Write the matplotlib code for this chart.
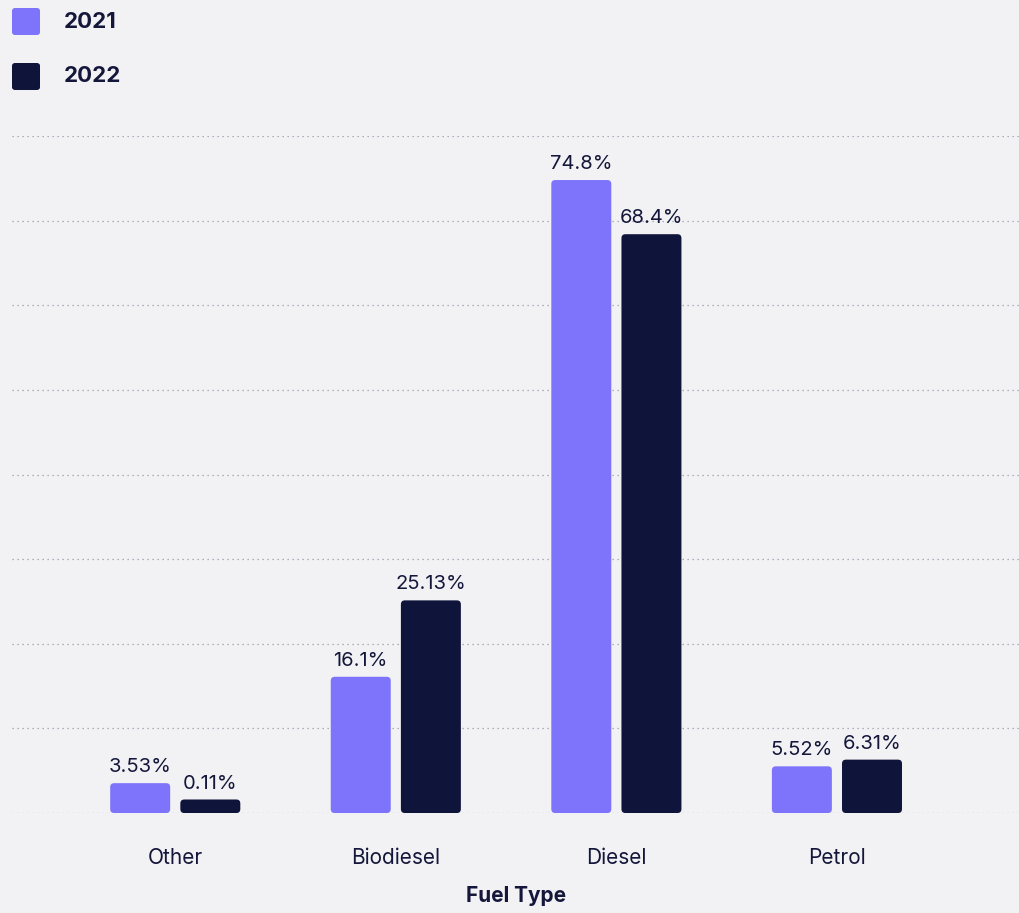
import matplotlib.pyplot as plt
from matplotlib.patches import FancyBboxPatch
import numpy as np

# data
fuel_types = ["Other", "Biodiesel", "Diesel", "Petrol"]
share_2021 = [3.53, 16.1, 74.8, 5.52]
share_2022 = [0.11, 25.13, 68.4, 6.31]
labels_2021 = ["3.53%", "16.1%", "74.8%", "5.52%"]
labels_2022 = ["0.11%", "25.13%", "68.4%", "6.31%"]
years = ["2021", "2022"]

# style
bg = "#f2f2f5"
col_2021 = "#7d74fb"
col_2022 = "#0f143a"
text_col = "#14163a"
plt.rcParams["font.family"] = ["Inter", "DejaVu Sans"]

fig = plt.figure(figsize=(10.2, 9.13), dpi=100, facecolor=bg)
ax = fig.add_axes([0.0118, 0.1095, 0.9882, 0.7415], facecolor=bg)

x = np.arange(len(fuel_types))
bar_w = 0.272
offset = 0.159
min_h = 1.6  # smallest drawn bar height, like the original renderer

ax.set_xlim(-0.74, 3.83)
ax.set_ylim(0, 80)

# px -> data scale for rounded corners
px_x = 4.57 / 1008
px_y = 80 / 677
aspect = px_y / px_x


def rounded_bars(xs, vals, labels, color):
    for xi, v, lab in zip(xs, vals, labels):
        h = max(v, min_h)
        r = 4 * px_x
        patch = FancyBboxPatch(
            (xi - bar_w / 2, 0), bar_w, h,
            boxstyle=f"round,pad=0,rounding_size={r}",
            mutation_aspect=aspect,
            facecolor=color, edgecolor="none", zorder=3,
        )
        ax.add_patch(patch)
        ax.annotate(lab, (xi, h), xytext=(0, 5), textcoords="offset points",
                    ha="center", va="bottom", fontsize=14.5, color=text_col)


rounded_bars(x - offset, share_2021, labels_2021, col_2021)
rounded_bars(x + offset, share_2022, labels_2022, col_2022)

ax.set_yticks(np.arange(0, 81, 10))
ax.yaxis.grid(True, linestyle=(0, (1, 3)), color="#9a9aa6", linewidth=0.9)
ax.set_axisbelow(True)
ax.tick_params(axis="y", left=False, labelleft=False)
ax.set_xticks(x)
ax.set_xticklabels(fuel_types, fontsize=15, color=text_col)
ax.tick_params(axis="x", length=0, pad=25)
for s in ax.spines.values():
    s.set_visible(False)
ax.set_xlabel("Fuel Type", fontsize=15, fontweight="bold", color=text_col, labelpad=13)

# legend
leg_cols = [col_2021, col_2022]
for i, (yr, c) in enumerate(zip(years, leg_cols)):
    ytop = 8 + i * 55
    sq = FancyBboxPatch((12 / 1020, 1 - (ytop + 27) / 913), 28 / 1020, 27 / 913,
                        boxstyle="round,pad=0,rounding_size=0.003",
                        transform=fig.transFigure, facecolor=c, edgecolor="none")
    fig.add_artist(sq)
    fig.text(64 / 1020, 1 - (ytop + 13.5) / 913, yr, fontsize=16, fontweight="bold",
             color=text_col, va="center", ha="left")

fig.savefig("out.png", dpi=100, facecolor=bg)
